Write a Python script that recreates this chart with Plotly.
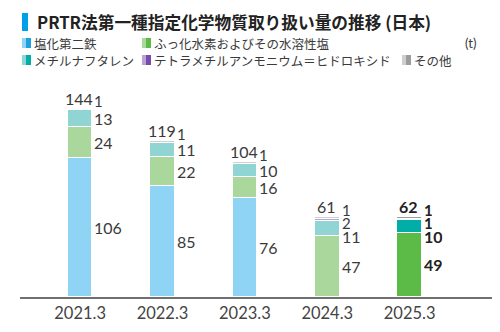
import plotly.graph_objects as go

# ---- data ----
categories = ["2021.3", "2022.3", "2023.3", "2024.3", "2025.3"]
series_names = ["塩化第二鉄", "ふっ化水素およびその水溶性塩", "メチルナフタレン",
                "テトラメチルアンモニウム＝ヒドロキシド", "その他"]
ferric_chloride = [106, 85, 76, 0, 0]
hydrogen_fluoride = [24, 22, 16, 47, 49]
methylnaphthalene = [13, 11, 10, 11, 10]
tmah = [0, 0, 0, 2, 1]
others = [1, 1, 1, 1, 1]
totals = [144, 119, 104, 61, 62]
unit_label = "(t)"
title_text = "PRTR法第一種指定化学物質取り扱い量の推移 (日本)"

series_values = [ferric_chloride, hydrogen_fluoride, methylnaphthalene, tmah, others]
light_colors = ["#8fd3f5", "#a9d79c", "#90d5d3", "#b9a3d6", "#cfcfcf"]
dark_colors = ["#1e9fe0", "#5cba47", "#00aea7", "#7a4aa8", "#9c9c9c"]
highlight_index = 4

# ---- layout geometry ----
W, H = 500, 332
ML, MR, MT, MB = 20, 8, 80, 35
PW, PH = W - ML - MR, H - MT - MB
YMAX = 166
S = PH / YMAX  # px per unit
XR = [-0.73, 5.0]

def px2x(px):
    return (px - ML) / PW

def py2y(py):
    return (H - MB - py) / PH

NUM_FONT = "Lato"
JP_FONT = "Noto Sans CJK JP"
TXT = "#3a3a3a"

fig = go.Figure()
for i, (name, vals) in enumerate(zip(series_names, series_values)):
    cols = [dark_colors[i] if k == highlight_index else light_colors[i] for k in range(len(categories))]
    fig.add_trace(go.Bar(
        x=categories, y=vals, name=name, width=0.30,
        marker=dict(color=cols, line=dict(color="white", width=1)),
        showlegend=False, hoverinfo="skip"))

annotations = []
bar_half_px = 0.30 / 2 * PW / (XR[1] - XR[0])
for k, cat in enumerate(categories):
    bold = k == highlight_index
    fw = "bold" if bold else "normal"
    col = "#222222" if bold else TXT
    seg = [v[k] for v in series_values]
    top_units = sum(seg)
    top_px = top_units * S
    # total label
    annotations.append(dict(x=k, xref="x", yref="y", y=(top_px + 11) / S,
                            text=str(totals[k]), showarrow=False, xanchor="center",
                            yanchor="middle", xshift=-1, height=14, borderpad=0,
                            font=dict(family=NUM_FONT, size=16, color=col, weight=fw)))
    # segment labels
    cum = 0
    mids = []
    for v in seg:
        if v > 0:
            mids.append((v, (cum + v / 2) * S))
        cum += v
    prev = None
    for j in range(len(mids) - 1, -1, -1):
        v, mid = mids[j]
        if j == len(mids) - 1:
            ypx = top_px + 8
        else:
            ypx = min(mid, prev - 13.5)
        prev = ypx
        annotations.append(dict(x=k, xref="x", yref="y", y=ypx / S,
                                text=str(v), showarrow=False, xanchor="left",
                                yanchor="middle", xshift=bar_half_px + 1,
                                height=13, borderpad=0,
                                font=dict(family=NUM_FONT, size=16 if v >= 10 else 15,
                                          color=col, weight=fw)))

# title
annotations.append(dict(xref="paper", yref="paper", x=px2x(35), y=py2y(22), text=title_text,
                        showarrow=False, xanchor="left", yanchor="middle",
                        font=dict(family=JP_FONT, size=16.7, color="#222222", weight="bold")))
shapes = [dict(type="rect", xref="paper", yref="paper", x0=px2x(22), x1=px2x(28),
               y0=py2y(13), y1=py2y(31), fillcolor="#00a0e9", line=dict(width=0))]

# legend
legend_pos = [(22, 43), (142, 43), (22, 60), (142, 60), (402, 60)]
for i, (lx, ly) in enumerate(legend_pos):
    shapes.append(dict(type="rect", xref="paper", yref="paper", x0=px2x(lx), x1=px2x(lx + 4),
                       y0=py2y(ly + 5), y1=py2y(ly - 5), fillcolor=light_colors[i], line=dict(width=0)))
    shapes.append(dict(type="rect", xref="paper", yref="paper", x0=px2x(lx + 4), x1=px2x(lx + 9),
                       y0=py2y(ly + 5), y1=py2y(ly - 5), fillcolor=dark_colors[i], line=dict(width=0)))
    annotations.append(dict(xref="paper", yref="paper", x=px2x(lx + 11), y=py2y(ly), text=series_names[i],
                            showarrow=False, xanchor="left", yanchor="middle",
                            height=14, borderpad=0,
                            font=dict(family=JP_FONT, size=12.5, color=TXT)))
annotations.append(dict(xref="paper", yref="paper", x=px2x(470), y=py2y(43), text=unit_label,
                        showarrow=False, xanchor="center", yanchor="middle",
                        font=dict(family=NUM_FONT, size=13, color=TXT)))

fig.update_layout(
    width=W, height=H, margin=dict(l=ML, r=MR, t=MT, b=MB),
    paper_bgcolor="white", plot_bgcolor="white",
    barmode="stack", bargap=0,
    xaxis=dict(type="category", range=XR, showgrid=False, zeroline=False,
               showline=True, linecolor="#707070", linewidth=1.5, ticks="",
               tickfont=dict(family=NUM_FONT, size=16.5, color="#444444")),
    yaxis=dict(range=[0, YMAX], showgrid=False, zeroline=False, showline=False,
               showticklabels=False, ticks=""),
    annotations=annotations, shapes=shapes,
)
fig.write_html("out.html")
